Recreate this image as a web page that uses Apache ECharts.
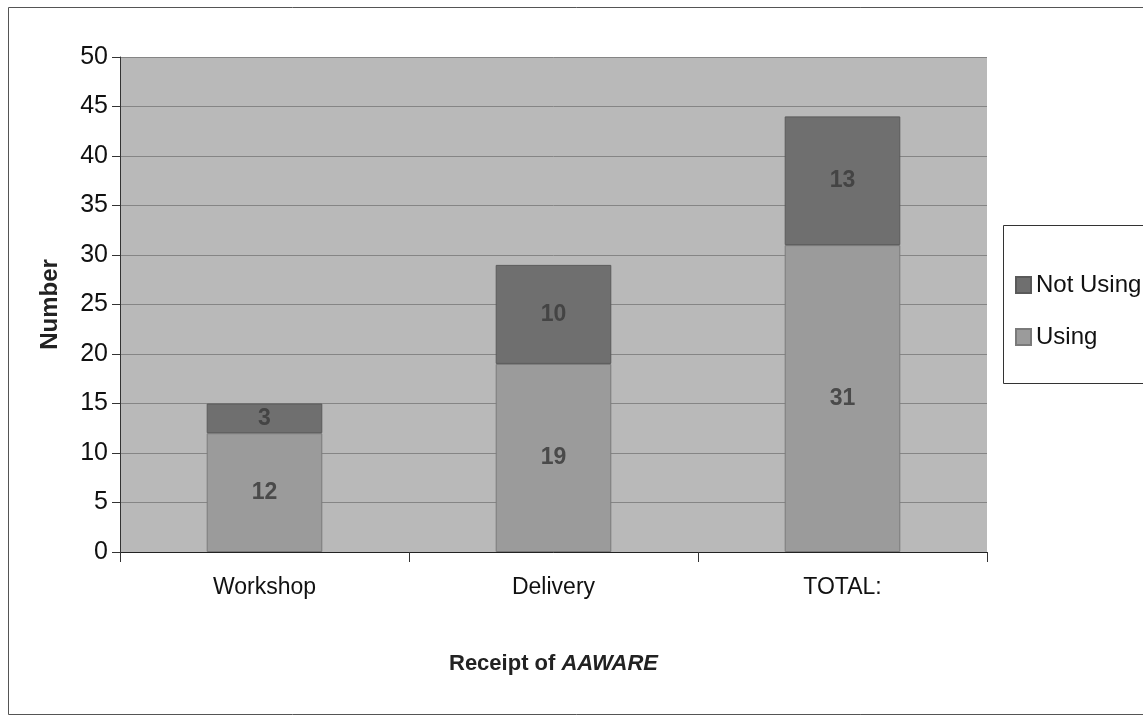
<!DOCTYPE html>
<html><head><meta charset="utf-8">
<script src="https://cdn.jsdelivr.net/npm/echarts@6/dist/echarts.min.js"></script>
<style>html,body{margin:0;padding:0;background:#fff}#c{width:1143px;height:717px}</style>
</head><body><div id="c"></div>
<script>
const categories = ['Workshop', 'Delivery', 'TOTAL:'];
const usingVals = [12, 19, 31];
const notUsingVals = [3, 10, 13];
const yTicks = [0, 5, 10, 15, 20, 25, 30, 35, 40, 45, 50];

const font = '"Liberation Sans", Arial, sans-serif';
const chart = echarts.init(document.getElementById('c'));
chart.setOption({
  animation: false,
  backgroundColor: '#ffffff',
  graphic: [
    { type: 'rect', shape: { x: 8.5, y: 7.5, width: 1160, height: 707 }, style: { fill: 'none', stroke: '#555', lineWidth: 1 }, z: -1 },
    { type: 'rect', shape: { x: 1003.5, y: 225.5, width: 160, height: 158 }, style: { fill: '#fff', stroke: '#333', lineWidth: 1 }, z: 0 }
  ],
  grid: { left: 120, right: 156, top: 57, bottom: 165, show: true, backgroundColor: '#b9b9b9', borderWidth: 0 },
  legend: {
    data: ['Not Using', 'Using'],
    orient: 'vertical',
    left: 1010, top: 268,
    icon: 'rect',
    itemWidth: 15, itemHeight: 16, itemGap: 28,
    textStyle: { fontFamily: font, fontSize: 24, color: '#111' },
    z: 5
  },
  xAxis: {
    type: 'category', data: categories,
    name: '{a|Receipt of }{b|AAWARE}', nameLocation: 'middle', nameGap: 101,
    nameTextStyle: { rich: {
      a: { fontFamily: font, fontSize: 22, color: '#222', fontWeight: 'bold' },
      b: { fontFamily: font, fontSize: 22, color: '#222', fontWeight: 'bold', fontStyle: 'italic' }
    } },
    axisLine: { lineStyle: { color: '#222', width: 1 } },
    axisTick: { show: true, length: 10, lineStyle: { color: '#333' } },
    axisLabel: { fontFamily: font, fontSize: 23, color: '#111', margin: 24 }
  },
  yAxis: {
    type: 'value', min: 0, max: 50, interval: 5,
    name: 'Number', nameLocation: 'middle', nameGap: 58, nameRotate: 90,
    nameTextStyle: { fontFamily: font, fontSize: 24, fontWeight: 'bold', color: '#222' },
    axisLine: { show: true, lineStyle: { color: '#333', width: 1 } },
    axisTick: { show: true, length: 8, lineStyle: { color: '#333' } },
    axisLabel: { fontFamily: font, fontSize: 25, color: '#111', margin: 12, formatter: v => yTicks.includes(v) ? String(v) : '' },
    splitLine: { lineStyle: { color: '#858585', width: 1 } }
  },
  series: [
    {
      name: 'Using', type: 'bar', stack: 's', data: usingVals, barWidth: '40%',
      itemStyle: { color: '#9b9b9b', borderColor: '#7a7a7a', borderWidth: 1 },
      label: { show: true, position: 'inside', fontFamily: font, fontSize: 23, fontWeight: 'bold', color: '#4a4a4a' }
    },
    {
      name: 'Not Using', type: 'bar', stack: 's', data: notUsingVals, barWidth: '40%',
      itemStyle: { color: '#6f6f6f', borderColor: '#5a5a5a', borderWidth: 1 },
      label: { show: true, position: 'inside', fontFamily: font, fontSize: 23, fontWeight: 'bold', color: '#444' }
    }
  ]
});
</script></body></html>
